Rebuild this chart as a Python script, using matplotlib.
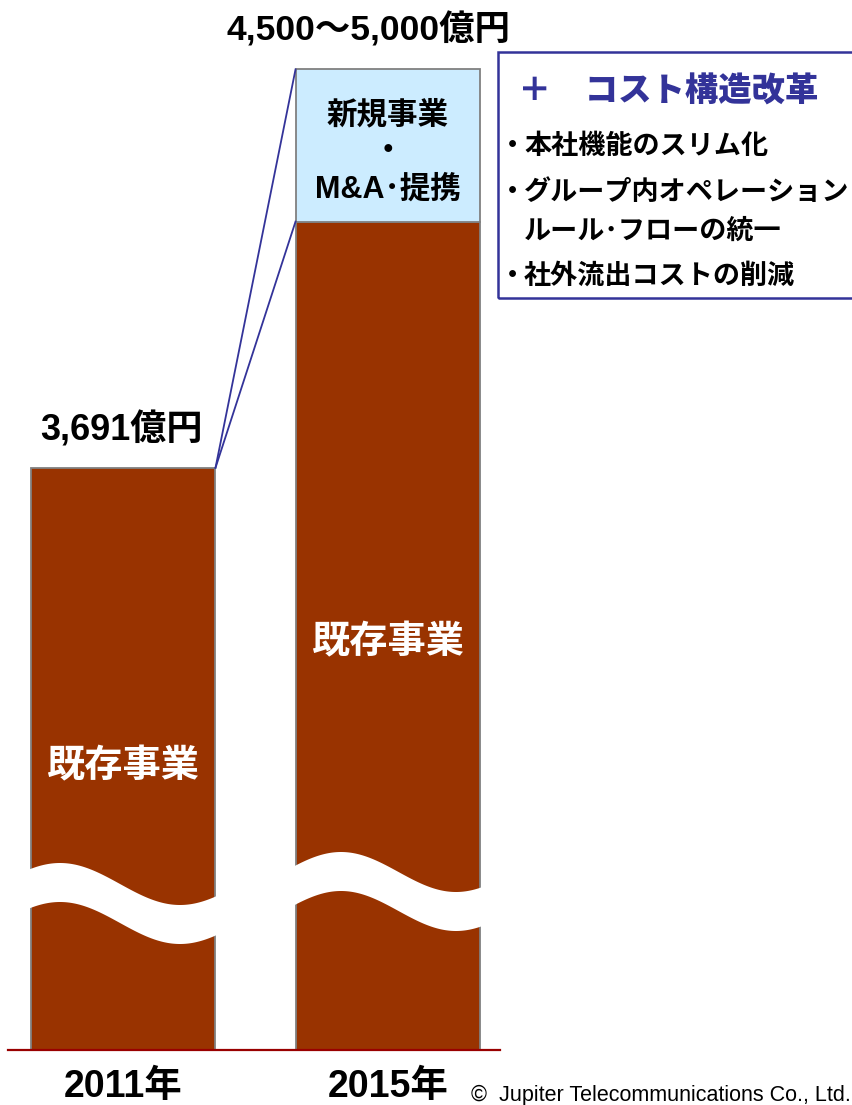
import numpy as np
import matplotlib.pyplot as plt
from matplotlib.patches import Rectangle

plt.rcParams['font.family'] = ['Liberation Sans', 'Noto Sans CJK JP']

# revenue, 100 million yen
years = ['2011年', '2015年']
existing = [3691, 4500]      # 既存事業
new_biz = [0, 500]           # 新規事業・M&A・提携 (4,500 -> 5,000)
cost_items = ['本社機能のスリム化',
              'グループ内オペレーション',
              'ルール･フローの統一',
              '社外流出コストの削減']

BROWN = '#993300'
LIGHT = '#CCECFF'
NAVY = '#333399'
EDGE = '#808080'

W, H = 852, 1105
fig = plt.figure(figsize=(W / 100, H / 100), dpi=100)
ax = fig.add_axes([0, 55 / H, 1, 1050 / H])

# axis is broken, so the visible floor is not zero
y_floor, y_top = 1778, 5228
ax.set_ylim(y_floor, y_top)
ax.set_xlim(-0.4642, 2.7509)
x = np.arange(len(years))
w = 0.698


def px_to_val(py):
    return y_top - (y_top - y_floor) * py / 1050


ax.bar(x, existing, width=w, color=BROWN, edgecolor=EDGE, linewidth=1.3, zorder=2)
ax.bar(x[1], new_biz[1], bottom=existing[1], width=w, color=LIGHT,
       edgecolor=EDGE, linewidth=1.3, zorder=2)

# connector lines from 2011 bar top to 2015 bar
x0r = x[0] + w / 2
x1l = x[1] - w / 2
total_2015 = existing[1] + new_biz[1]
ax.plot([x0r, x1l], [existing[0], total_2015], color=NAVY, lw=1.3, zorder=3)
ax.plot([x0r, x1l], [existing[0], existing[1]], color=NAVY, lw=1.3, zorder=3)

# wavy break through each bar (pixel shapes: centre, amplitude, phase, period)
waves = [(903, 21, 29, 240), (891, 20, 45, 230)]
half = 19.5
for xi, (cy0, amp, ph, per) in zip(x, waves):
    lx = np.linspace(-3, 188, 200)
    cy = cy0 - amp * np.cos(2 * np.pi * (lx - ph) / per)
    xs = xi - w / 2 + lx / 265
    ax.fill_between(xs, px_to_val(cy - half), px_to_val(cy + half),
                    color='white', lw=0, zorder=4)

# labels
for xi, v in zip(x, existing):
    ax.annotate('既存事業', (xi, (y_floor + v) / 2), xytext=(0, -8),
                textcoords='offset pixels', color='white', fontsize=27.5,
                fontweight='bold', ha='center', va='center', zorder=5)
ax.annotate('新規事業\n・\nM&A･提携', (x[1], existing[1] + new_biz[1] / 2),
            xytext=(0, -7), textcoords='offset pixels',
            fontsize=22, fontweight='bold', ha='center', va='center',
            linespacing=1.3, zorder=5)

ax.annotate(f'{existing[0]:,}億円', (x[0], existing[0]), xytext=(-2, 37),
            textcoords='offset pixels', ha='center', va='center',
            fontsize=26, fontweight='bold')
ax.annotate(f'{existing[1]:,}～{total_2015:,}億円', (x[1], total_2015),
            xytext=(-20, 40), textcoords='offset pixels', ha='center',
            va='center', fontsize=25.5, fontweight='bold')

ax.set_xticks(x, years, fontsize=27, fontweight='bold')
ax.tick_params(axis='x', length=0, pad=14)
ax.set_yticks([])
for s in ['top', 'left', 'right']:
    ax.spines[s].set_visible(False)
ax.spines['bottom'].set_color('#990000')
ax.spines['bottom'].set_linewidth(1.6)
ax.spines['bottom'].set_bounds(-0.434, 1.4226)


def fx(px):
    return px / W


def fy(py):
    return 1 - py / H


# cost structure box
fig.patches.append(Rectangle((fx(498), fy(298)), 400 / W, 246 / H,
                             transform=fig.transFigure, fill=False,
                             edgecolor=NAVY, lw=1.8))
fig.text(fx(518), fy(93), '＋　コスト構造改革', color=NAVY, fontsize=24,
         fontweight='heavy', ha='left', va='center')
rows = [(147, True), (193, True), (232, False), (277, True)]
for item, (py, bullet) in zip(cost_items, rows):
    if bullet:
        fig.text(fx(499), fy(py), '・', fontsize=19.5, fontweight='bold',
                 ha='left', va='center')
    fig.text(fx(524), fy(py), item, fontsize=19.5, fontweight='bold',
             ha='left', va='center')

fig.text(fx(851), fy(1095), '©  Jupiter Telecommunications Co., Ltd.',
         fontsize=15.5, ha='right', va='center')

fig.savefig('out.png', dpi=100)
